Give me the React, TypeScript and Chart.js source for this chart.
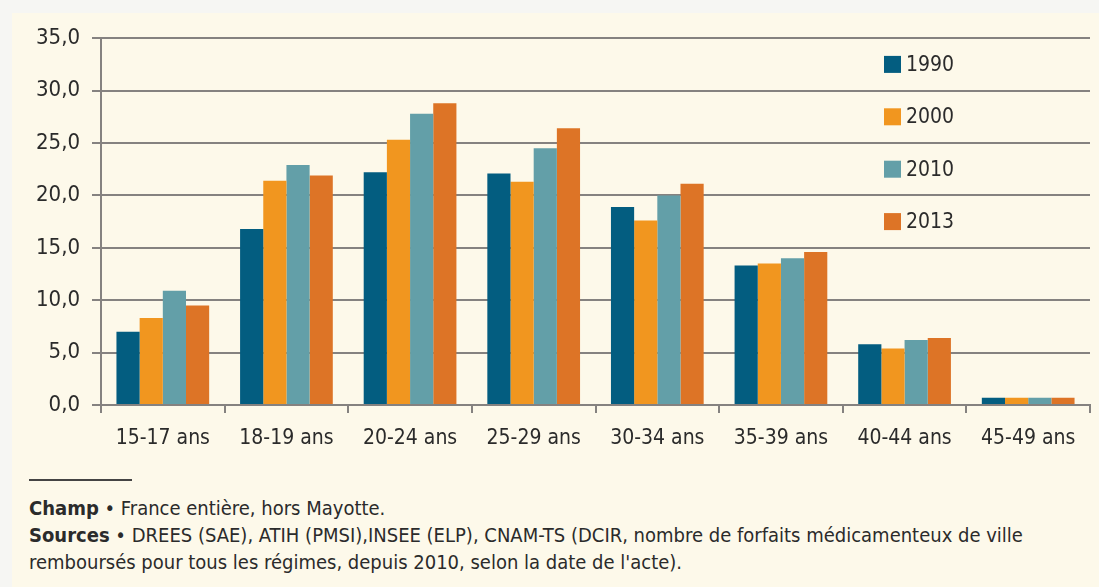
import React, { useEffect, useRef } from "react";
import { Chart, registerables } from "chart.js";

Chart.register(...registerables);

const categories = ["15-17 ans", "18-19 ans", "20-24 ans", "25-29 ans", "30-34 ans", "35-39 ans", "40-44 ans", "45-49 ans"];
const series1990 = [7.0, 16.8, 22.2, 22.1, 18.9, 13.3, 5.8, 0.7];
const series2000 = [8.3, 21.4, 25.3, 21.3, 17.6, 13.5, 5.4, 0.7];
const series2010 = [10.9, 22.9, 27.8, 24.5, 20.0, 14.0, 6.2, 0.7];
const series2013 = [9.5, 21.9, 28.8, 26.4, 21.1, 14.6, 6.4, 0.7];
const seriesLabels = ["1990", "2000", "2010", "2013"];
const seriesColors = ["#035D80", "#F1961F", "#639FA8", "#DD7426"];
const yMin = 0;
const yMax = 35;
const yStep = 5;

const FONT = "'Liberation Sans Narrow', 'Arial Narrow', 'DejaVu Sans Condensed', sans-serif";
const TEXT = "#2b2b2b";
const GRID = "#858280";

const legendPlugin = {
  id: "innerLegend",
  afterDraw(chart: any) {
    const ctx = chart.ctx;
    const area = chart.chartArea;
    const y = chart.scales.y;
    ctx.save();
    ctx.font = `21px ${FONT}`;
    ctx.textBaseline = "middle";
    ctx.textAlign = "left";
    chart.data.datasets.forEach((ds: any, i: number) => {
      const cy = y.getPixelForValue(yMax - yStep * (i + 0.5));
      const x = area.left + 783;
      ctx.fillStyle = ds.backgroundColor;
      ctx.fillRect(x, cy - 8.5, 17, 17);
      ctx.fillStyle = TEXT;
      ctx.fillText(ds.label, x + 22, cy + 1);
    });
    ctx.restore();
  },
};

export default function App() {
  const ref = useRef<HTMLCanvasElement>(null);
  useEffect(() => {
    if (!ref.current) return;
    const data = [series1990, series2000, series2010, series2013];
    const chart = new Chart(ref.current, {
      type: "bar",
      data: {
        labels: categories,
        datasets: data.map((d, i) => ({
          label: seriesLabels[i],
          data: d,
          backgroundColor: seriesColors[i],
          borderWidth: 0,
          categoryPercentage: 0.75,
          barPercentage: 1,
        })),
      },
      options: {
        animation: false,
        responsive: false,
        maintainAspectRatio: false,
        layout: { padding: { top: 21, right: 9, bottom: 0, left: 0 } },
        plugins: { legend: { display: false }, tooltip: { enabled: false } },
        scales: {
          x: {
            grid: {
              offset: true,
              drawOnChartArea: false,
              color: GRID,
              lineWidth: 2,
              tickLength: 8,
            },
            border: { color: GRID, width: 2 },
            ticks: {
              color: TEXT,
              font: { family: FONT, size: 21 },
              padding: 13,
              maxRotation: 0,
            },
            afterFit(scale: any) {
              scale.height = 55;
            },
          },
          y: {
            min: yMin,
            max: yMax,
            ticks: {
              stepSize: yStep,
              color: TEXT,
              font: { family: FONT, size: 22 },
              padding: 12,
              callback: (v: any) => Number(v).toFixed(1).replace(".", ","),
            },
            grid: { color: GRID, lineWidth: 2, tickLength: 9 },
            border: { color: GRID, width: 2 },
            afterFit(scale: any) {
              scale.width = 89;
            },
          },
        },
      },
      plugins: [legendPlugin],
    });
    return () => chart.destroy();
  }, []);

  return (
    <div style={{ position: "fixed", left: 0, top: 0, width: 1099, height: 587, background: "#F6F6F3", overflow: "hidden" }}>
      <div style={{ position: "absolute", left: 12, top: 13, width: 1087, height: 574, background: "#FDF9EA" }}>
        <canvas ref={ref} width={1087} height={447} style={{ position: "absolute", left: 0, top: 0, width: 1087, height: 447 }} />
        <div style={{ position: "absolute", left: 17, top: 466, width: 103, height: 2, background: "#444" }} />
        <div style={{ position: "absolute", left: 17, top: 482, fontFamily: FONT, fontSize: 20, lineHeight: "27px", color: TEXT, whiteSpace: "nowrap" }}>
          <div><b>Champ</b> • France entière, hors Mayotte.</div>
          <div><b>Sources</b> • DREES (SAE), ATIH (PMSI),INSEE (ELP), CNAM-TS (DCIR, nombre de forfaits médicamenteux de ville</div>
          <div>remboursés pour tous les régimes, depuis 2010, selon la date de l'acte).</div>
        </div>
      </div>
    </div>
  );
}
